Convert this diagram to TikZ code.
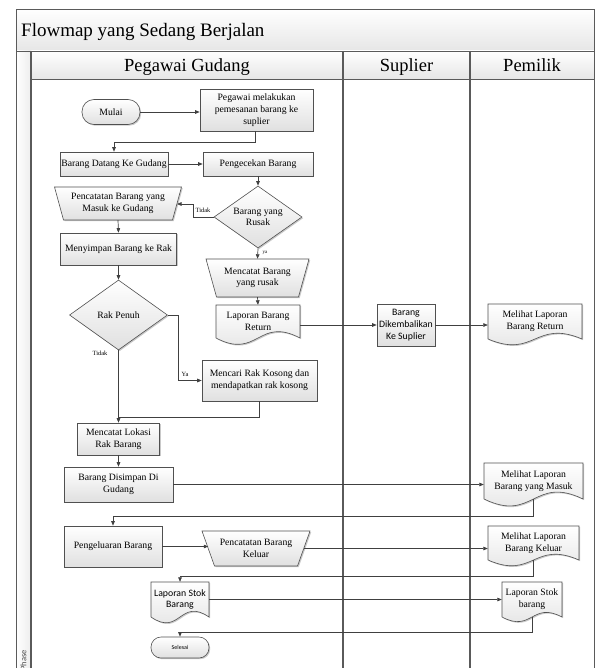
\documentclass[tikz,border=0pt]{standalone}
\usepackage{fontspec}
\setmainfont{Liberation Serif}
\newfontfamily\calfont{Carlito}
\usetikzlibrary{shapes.geometric,arrows.meta,shadows,calc}

\definecolor{linec}{HTML}{404040}
\definecolor{bordc}{HTML}{505050}
\definecolor{fillc}{HTML}{E0E0E0}
\definecolor{lanec}{HTML}{5A5A5A}
\definecolor{bandc}{HTML}{E6E6E6}

% manual operation (trapezium, wide side on top): name, cx, cy, top width, bottom width, height, text
\newcommand\mkmanual[7]{%
  \path[shapebox] ({#2-#4/2},{#3-#6/2}) -- ({#2+#4/2},{#3-#6/2}) -- ({#2+#5/2},{#3+#6/2}) -- ({#2-#5/2},{#3+#6/2}) -- cycle;
  \node[txt, minimum width=#4, minimum height=#6] (#1) at (#2,#3) {#7};
  \coordinate (#1-L) at ({#2-(#4+#5)/4},#3);
  \coordinate (#1-R) at ({#2+(#4+#5)/4},#3);
}
% document (wavy bottom): [text style] name, left, right, top, side bottom, wave depth, text
\newcommand\mkdoc[8][txt]{%
  \path[shapebox] (#3,#5) -- (#4,#5) -- (#4,#6) .. controls ({(#3+#4)/2},{#6-#7}) and ({(#3+#4)/2},{#6+#7}) .. (#3,#6) -- cycle;
  \node[#1, minimum width={#4-#3}, minimum height={#6-#5}] (#2) at ({(#3+#4)/2},{(#5+#6)/2}) {#8};
}

\begin{document}
\begin{tikzpicture}[x=1pt,y=-1pt]
\tikzset{
  shapebox/.style={draw=bordc, line width=0.6pt, top color=white, bottom color=fillc,
    drop shadow={shadow xshift=1.2pt, shadow yshift=-1.2pt, opacity=0.3, fill=black!70}},
  txt/.style={inner sep=1pt, align=center, font=\fontsize{9.7}{11.7}\selectfont},
  sanstxt/.style={inner sep=1pt, align=center, font=\calfont\fontsize{9.8}{11.8}\selectfont},
  procbox/.style={shapebox, rectangle, txt},
  sanbox/.style={shapebox, rectangle, sanstxt},
  termbox/.style={procbox, rounded corners=12pt},
  decision/.style={shapebox, diamond, inner sep=0pt},
  flow/.style={draw=linec, line width=0.7pt, -{Triangle[length=4.5pt,width=3.6pt]}},
  link/.style={draw=linec, line width=0.7pt},
  note/.style={inner sep=0.5pt, font=\fontsize{6.4}{7}\selectfont},
  band/.style={top color=white, bottom color=bandc},
  frameline/.style={draw=lanec, line width=0.9pt},
  laneline/.style={draw=lanec, line width=1.3pt},
}
\useasboundingbox (0,0) rectangle (595,668);
\clip (0,0) rectangle (595,668);

% pool frame, title band and lane headers
\path[band] (16,9) rectangle (594.3,51);
\path[band] (31,51) rectangle (594.3,79);
\path[left color=white, right color=bandc!70] (16,51) rectangle (31,690);
\draw[frameline] (16,690) -- (16,9) -- (594.3,9) -- (594.3,690);
\draw[frameline] (16,51) -- (594.3,51);
\draw[frameline] (31,79) -- (594.3,79);
\draw[laneline] (31,51) -- (31,690);
\draw[laneline] (343,51) -- (343,690);
\draw[laneline] (470,51) -- (470,690);

\node[anchor=base west, inner sep=0, font=\fontsize{19}{22}\selectfont] (title) at (21,37) {Flowmap yang Sedang Berjalan};
\node[anchor=base, inner sep=0, font=\fontsize{18.5}{21}\selectfont] (lane1) at (187,72) {Pegawai Gudang};
\node[anchor=base, inner sep=0, font=\fontsize{18.5}{21}\selectfont] (lane2) at (406.5,72) {Suplier};
\node[anchor=base, inner sep=0, font=\fontsize{18.5}{21}\selectfont] (lane3) at (532,72) {Pemilik};
\node[rotate=90, anchor=east, inner sep=0, text=black!70, font=\calfont\fontsize{8.5}{9}\selectfont] (phase) at (23.5,650) {Phase};

% process shapes
\node[termbox, minimum width=58, minimum height=25] (mulai) at (111,112) {Mulai};
\node[procbox, minimum width=113, minimum height=42] (pesan) at (256.5,110) {Pegawai melakukan\\pemesanan barang ke\\suplier};
\node[procbox, minimum width=108, minimum height=24] (datang) at (114,164) {Barang Datang Ke Gudang};
\node[procbox, minimum width=110, minimum height=24] (cek) at (258,164) {Pengecekan Barang};
\node[decision, minimum width=88, minimum height=62, label={[txt]center:Barang yang\\Rusak}] (rusak) at (258,217) {};
\mkmanual{catatmasuk}{118}{203.5}{127}{109}{33}{Pencatatan Barang yang\\Masuk ke Gudang}
\node[procbox, minimum width=116, minimum height=32] (simpan) at (118.5,249) {Menyimpan Barang ke Rak};
\node[decision, minimum width=98, minimum height=70, label={[txt]center:Rak Penuh}] (penuh) at (118.5,315) {};
\node[procbox, minimum width=115, minimum height=41] (cari) at (259.5,380.5) {Mencari Rak Kosong dan\\mendapatkan rak kosong};
\node[procbox, minimum width=82, minimum height=32] (lokasi) at (118.5,439) {Mencatat Lokasi\\Rak Barang};
\node[procbox, minimum width=109, minimum height=35] (disimpan) at (118.5,484.5) {Barang Disimpan Di\\Gudang};
\mkmanual{catatrusak}{257.5}{278}{103}{82}{38}{Mencatat Barang\\yang rusak}
\mkdoc{lapreturn}{216}{300}{305}{338}{22}{Laporan Barang\\Return}
\node[sanbox, minimum width=58, minimum height=42] (kembali) at (406,325) {Barang\\Dikembalikan\\Ke Suplier};
\mkdoc{lihatreturn}{488}{582}{304}{339}{20}{Melihat Laporan\\Barang Return}
\mkdoc{lihatmasuk}{484}{583}{463}{499}{24}{Melihat Laporan\\Barang yang Masuk}
\node[procbox, minimum width=98, minimum height=41] (keluar) at (113,546.5) {Pengeluaran Barang};
\mkmanual{catatkeluar}{256}{548.5}{108}{83}{35}{Pencatatan Barang\\Keluar}
\mkdoc{lihatkeluar}{488}{579}{526}{560}{20}{Melihat Laporan\\Barang Keluar}
\mkdoc[sanstxt]{stokA}{151}{209}{582}{617}{20}{Laporan Stok\\Barang}
\mkdoc{stokB}{502}{562}{582}{617}{16}{Laporan Stok\\barang}
\node[termbox, rounded corners=10pt, minimum width=58, minimum height=21, font=\calfont\fontsize{6}{7}\selectfont] (selesai) at (180,647.5) {Selesai};

% connectors
\coordinate (j1) at (255,142);
\coordinate (tidakA) at (177,204);
\coordinate (j2) at (118.5,417);
\coordinate (j3) at (113,516);
\coordinate (j4) at (180,576);
\coordinate (j5) at (180,632);

\draw[flow] (mulai.east) -- (mulai.east -| pesan.west);
\draw[flow] (pesan.south -| j1) -- (j1) -| (datang.north);
\draw[flow] (datang.east) -- (cek.west);
\draw[flow] (cek.south) -- (rusak.north);
\draw[flow] (rusak.west) -- ++(-20,0) |- (tidakA);
\node[note] (lblTidakA) at (203,210) {Tidak};
\draw[flow] (rusak.south) -- (catatrusak.north);
\node[note, font=\fontsize{5}{6}\selectfont] (lblya) at (265,252.5) {ya};
\draw[flow] (catatrusak.south) -- (lapreturn.north);
\draw[flow] (lapreturn.east |- kembali.west) -- (kembali.west);
\draw[flow] (kembali.east) -- (kembali.east -| lihatreturn.west);
\draw[flow] (catatmasuk.south) -- (simpan.north);
\draw[flow] (simpan.south) -- (penuh.north);
\draw[flow] (penuh.east) -- ++(11,0) |- (cari.west);
\node[note] (lblYa) at (185,374) {Ya};
\draw[flow] (penuh.south) -- (lokasi.north);
\node[note] (lblTidakB) at (100,353) {Tidak};
\draw[link] (cari.south) |- (j2);
\draw[flow] (lokasi.south) -- (disimpan.north);
\draw[flow] (disimpan.east) -- (disimpan.east -| lihatmasuk.west);
\draw[flow] (lihatmasuk.south) |- (j3) -- (keluar.north);
\draw[flow] (keluar.east) -- (keluar.east -| catatkeluar-L);
\draw[flow] (catatkeluar-R) -- (catatkeluar-R -| lihatkeluar.west);
\draw[flow] (lihatkeluar.south) |- (j4) -- (stokA.north);
\draw[flow] (stokA.east) -- (stokA.east -| stokB.west);
\draw[flow] (stokB.south) |- (j5) -- (selesai.north);
\end{tikzpicture}
\end{document}
